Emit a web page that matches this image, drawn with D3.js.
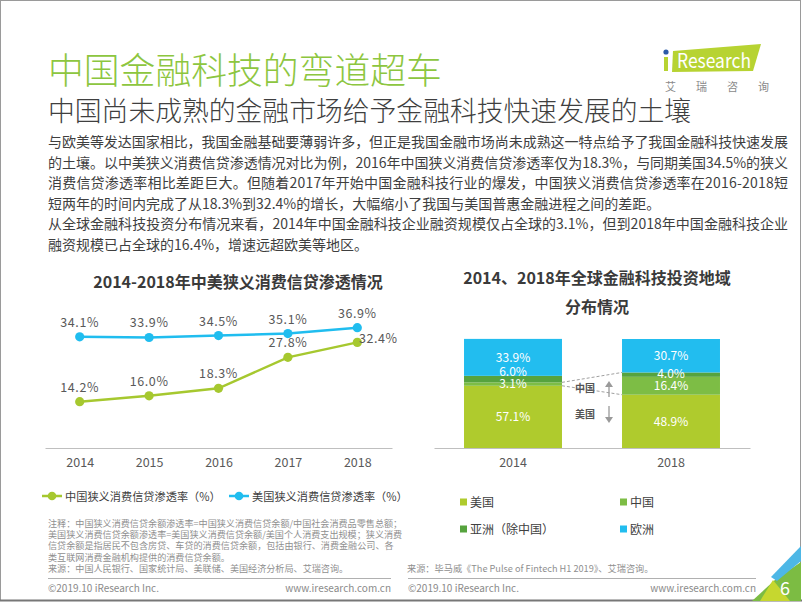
<!DOCTYPE html>
<html><head><meta charset="utf-8">
<script src="https://cdn.jsdelivr.net/npm/d3@7"></script>
<style>
html,body{margin:0;padding:0;background:#fff;}
svg{display:block;}
text{font-family:"Noto Sans CJK SC","Noto Sans",sans-serif;}
</style></head>
<body>
<svg id="c" width="802" height="602"></svg>
<script>
// ---------- data ----------
const years = ['2014','2015','2016','2017','2018'];
const chinaRate = [14.2, 16.0, 18.3, 27.8, 32.4];
const usRate = [34.1, 33.9, 34.5, 35.1, 36.9];
const seriesNames = ['中国狭义消费信贷渗透率（%）','美国狭义消费信贷渗透率（%）'];

const barYears = ['2014','2018'];
const regions = ['美国','中国','亚洲（除中国）','欧洲'];
const usShare = [57.1, 48.9];
const chinaShare = [3.1, 16.4];
const asiaShare = [6.0, 4.0];
const europeShare = [33.9, 30.7];

const title = '中国金融科技的弯道超车';
const subtitle = '中国尚未成熟的金融市场给予金融科技快速发展的土壤';
const paragraph = [
 '与欧美等发达国家相比，我国金融基础要薄弱许多，但正是我国金融市场尚未成熟这一特点给予了我国金融科技快速发展',
 '的土壤。以中美狭义消费信贷渗透情况对比为例，2016年中国狭义消费信贷渗透率仅为18.3%，与同期美国34.5%的狭义',
 '消费信贷渗透率相比差距巨大。但随着2017年开始中国金融科技行业的爆发，中国狭义消费信贷渗透率在2016-2018短',
 '短两年的时间内完成了从18.3%到32.4%的增长，大幅缩小了我国与美国普惠金融进程之间的差距。',
 '从全球金融科技投资分布情况来看，2014年中国金融科技企业融资规模仅占全球的3.1%，但到2018年中国金融科技企业',
 '融资规模已占全球的16.4%，增速远超欧美等地区。'
];
const justified = [true,true,true,false,true,false];
const notes = [
 '注释：中国狭义消费信贷余额渗透率=中国狭义消费信贷余额/中国社会消费品零售总额；',
 '美国狭义消费信贷余额渗透率=美国狭义消费信贷余额/美国个人消费支出规模；狭义消费',
 '信贷余额是指居民不包含房贷、车贷的消费信贷余额，包括由银行、消费金融公司、各',
 '类互联网消费金融机构提供的消费信贷余额。',
 '来源：中国人民银行、国家统计局、美联储、美国经济分析局、艾瑞咨询。'
];
const source2 = '来源：毕马威《The Pulse of Fintech H1 2019》、艾瑞咨询。';

const svg = d3.select('#c');
const GREEN = '#a6c82f', BLUE = '#20bdef';
const segColors = ['#afcb2d','#7dbd45','#56a33e','#22bdef'];

// ---------- frame ----------
svg.append('rect').attr('x',0.5).attr('y',0.5).attr('width',800).attr('height',600)
  .attr('fill','none').attr('stroke','#9a9a9a');
svg.append('line').attr('x1',0).attr('x2',802).attr('y1',600.5).attr('y2',600.5).attr('stroke','#777').attr('stroke-width',2);

// ---------- header ----------
svg.append('text').attr('x',48).attr('y',84).text(title)
  .attr('font-size',35.8).attr('font-weight',300).attr('fill','#8dc63f');
svg.append('text').attr('x',48).attr('y',121).text(subtitle)
  .attr('font-size',26.8).attr('font-weight',300).attr('fill','#3f3f3f');

// logo
const logo = svg.append('g');
logo.append('polygon').attr('points','673,51 761,44 753,71 672,72').attr('fill','#b7d332');
logo.append('rect').attr('x',664).attr('y',57).attr('width',4).attr('height',14).attr('fill','#b7d332');
logo.append('circle').attr('cx',666).attr('cy',52).attr('r',2.6).attr('fill','#2b5aa8');
logo.append('text').attr('x',677).attr('y',68).text('Research').attr('fill','#fff')
  .attr('font-family','Liberation Sans, Arial, sans-serif').attr('font-size',20)
  .attr('textLength',74).attr('lengthAdjust','spacingAndGlyphs');
logo.append('text').attr('x',665).attr('y',91).text('艾瑞咨询').attr('fill','#8a8a8a')
  .attr('font-size',11).attr('letter-spacing',20);

// ---------- paragraph ----------
paragraph.forEach((s,i)=>{
  const t = svg.append('text').attr('x',48).attr('y',147 + i*20.6).text(s)
    .attr('font-size',14).attr('fill','#3f3f3f');
  if (justified[i]) t.attr('textLength',740).attr('lengthAdjust','spacing');
});

// ---------- line chart ----------
svg.append('text').attr('x',238).attr('y',288).attr('text-anchor','middle')
  .text('2014-2018年中美狭义消费信贷渗透情况').attr('font-size',16).attr('font-weight',700).attr('fill','#3a3a3a');

const xL = d3.scalePoint().domain(years).range([45,392]).padding(0.5);
const yL = d3.scaleLinear().domain([0,40]).range([448,317.6]);

const axL = svg.append('g').attr('transform','translate(0,448)')
  .call(d3.axisBottom(xL).tickSize(0).tickPadding(10));
axL.select('.domain').attr('stroke','#bfbfbf');
axL.selectAll('text').attr('font-size',12.5).attr('fill','#595959')
  .attr('font-family','"Noto Sans CJK SC", sans-serif');

const lineGen = d3.line().x((d,i)=>xL(years[i])).y(d=>yL(d));
[[chinaRate,GREEN],[usRate,BLUE]].forEach(([arr,col],k)=>{
  svg.append('path').datum(arr).attr('d',lineGen).attr('fill','none')
    .attr('stroke',col).attr('stroke-width',2.5);
  svg.selectAll(null).data(arr).enter().append('circle')
    .attr('cx',(d,i)=>xL(years[i])).attr('cy',d=>yL(d)).attr('r',4.6).attr('fill',col);
  svg.selectAll(null).data(arr).enter().append('text')
    .attr('x',(d,i)=> (k===0 && i===arr.length-1) ? xL(years[i])+21 : xL(years[i]))
    .attr('y',(d,i)=> (k===0 && i===arr.length-1) ? yL(d)+1 : yL(d)-10)
    .attr('text-anchor','middle').text(d=>d3.format('.1f')(d)+'%')
    .attr('font-size',12.5).attr('fill','#595959').attr('letter-spacing',0.6);
});

// legend
[[GREEN,42,seriesNames[0]],[BLUE,229,seriesNames[1]]].forEach(([col,x,name])=>{
  svg.append('line').attr('x1',x).attr('x2',x+20).attr('y1',496).attr('y2',496).attr('stroke',col).attr('stroke-width',2.5);
  svg.append('circle').attr('cx',x+10).attr('cy',496).attr('r',4.3).attr('fill',col);
  svg.append('text').attr('x',x+23).attr('y',500.5).text(name).attr('font-size',11.2).attr('fill','#404040');
});

// notes
notes.forEach((s,i)=>{
  svg.append('text').attr('x',48).attr('y',527 + i*11.2).text(s)
    .attr('font-size',9.1).attr('fill','#8f8f8f');
});

// ---------- bar chart ----------
svg.append('text').attr('x',597).attr('y',284).attr('text-anchor','middle')
  .text('2014、2018年全球金融科技投资地域').attr('font-size',16).attr('font-weight',700).attr('fill','#3a3a3a');
svg.append('text').attr('x',597).attr('y',313).attr('text-anchor','middle')
  .text('分布情况').attr('font-size',16).attr('font-weight',700).attr('fill','#3a3a3a');

const xB = d3.scaleBand().domain(barYears).range([434,750]).paddingInner(0.38).paddingOuter(0.19);
const yB = d3.scaleLinear().domain([0,100]).range([448,339]);
const shares = [usShare, chinaShare, asiaShare, europeShare];
const rows = barYears.map((y,i)=>{
  const o = {year:y}; regions.forEach((r,j)=>o[r]=shares[j][i]); return o;
});
const stacked = d3.stack().keys(regions)(rows);

stacked.forEach((layer,j)=>{
  svg.selectAll(null).data(layer).enter().append('rect')
    .attr('x',d=>xB(d.data.year)).attr('width',xB.bandwidth())
    .attr('y',d=>yB(d[1])).attr('height',d=>yB(d[0])-yB(d[1]))
    .attr('fill',segColors[j]);
});
// labels with simple collision avoidance (bottom-up)
barYears.forEach((yr,i)=>{
  let prev = null;
  stacked.forEach((layer,j)=>{
    const d = layer[i];
    let cy = (yB(d[0])+yB(d[1]))/2;
    if (prev !== null && cy > prev - 12) cy = prev - 12;
    prev = cy;
    svg.append('text').attr('x',xB(yr)+xB.bandwidth()/2).attr('y',cy).attr('dy','0.36em')
      .attr('text-anchor','middle').text(d3.format('.1f')(shares[j][i])+'%')
      .attr('font-size',12).attr('fill','#fff');
  });
});

// connectors
const x14r = xB('2014')+xB.bandwidth(), x18l = xB('2018');
const segTop = (j,i)=>yB(stacked[j][i][1]);
svg.append('line').attr('x1',x14r).attr('y1',segTop(1,0)).attr('x2',x18l).attr('y2',segTop(2,1))
  .attr('stroke','#a0a0a0').attr('stroke-dasharray','3,2');
svg.append('line').attr('x1',x14r).attr('y1',segTop(0,0)).attr('x2',x18l).attr('y2',segTop(0,1))
  .attr('stroke','#a0a0a0').attr('stroke-dasharray','3,2');
svg.append('text').attr('x',575).attr('y',392).text('中国').attr('font-size',10).attr('font-weight',700).attr('fill','#555');
svg.append('text').attr('x',575).attr('y',418).text('美国').attr('font-size',10).attr('font-weight',700).attr('fill','#555');
// arrows
const arrowCol = '#9a9a9a';
svg.append('line').attr('x1',609).attr('x2',609).attr('y1',386).attr('y2',397).attr('stroke',arrowCol).attr('stroke-width',1.3);
svg.append('polygon').attr('points','605,387 613,387 609,381').attr('fill',arrowCol);
svg.append('line').attr('x1',609).attr('x2',609).attr('y1',406).attr('y2',418).attr('stroke',arrowCol).attr('stroke-width',1.3);
svg.append('polygon').attr('points','605,417 613,417 609,423').attr('fill',arrowCol);

const axB = svg.append('g').attr('transform','translate(0,448)')
  .call(d3.axisBottom(xB).tickSize(0).tickPadding(10));
axB.select('.domain').attr('stroke','#bfbfbf');
axB.selectAll('text').attr('font-size',12.5).attr('fill','#595959')
  .attr('font-family','"Noto Sans CJK SC", sans-serif');

// bar legend
const legPos = [[460,502],[620,502],[460,529],[620,529]];
regions.forEach((r,j)=>{
  const [x,y] = legPos[j];
  svg.append('rect').attr('x',x).attr('y',y-3.5).attr('width',7).attr('height',7).attr('fill',segColors[j]);
  svg.append('text').attr('x',x+10).attr('y',y+4.5).text(r).attr('font-size',12).attr('fill','#404040');
});

svg.append('text').attr('x',407).attr('y',572).text(source2).attr('font-size',9.2).attr('fill','#8f8f8f');

// ---------- footers ----------
[[48,391],[408,756]].forEach(([a,b])=>{
  svg.append('line').attr('x1',a).attr('x2',b).attr('y1',578.5).attr('y2',578.5).attr('stroke','#b0b0b0');
  svg.append('text').attr('x',a).attr('y',592).text('©2019.10 iResearch Inc.')
    .attr('font-family','Liberation Sans, Arial, sans-serif').attr('font-size',10).attr('fill','#8a8a8a');
  svg.append('text').attr('x',b).attr('y',592).attr('text-anchor','end').text('www.iresearch.com.cn')
    .attr('font-family','Liberation Sans, Arial, sans-serif').attr('font-size',10).attr('fill','#8a8a8a');
});

// corner decoration + page number
svg.append('polygon').attr('points','801,562 801,601 752,601 776,579').attr('fill','#7cbc43');
svg.append('polygon').attr('points','773,580 790,601 760,601').attr('fill','#c6d72f');
svg.append('polygon').attr('points','801,546 801,561 777,581 771,577').attr('fill','#4db7e6');
svg.append('text').attr('x',785).attr('y',595).attr('text-anchor','middle').text('6')
  .attr('font-family','Liberation Sans, Arial, sans-serif').attr('font-size',18).attr('fill','#fff');
</script>
</body></html>
